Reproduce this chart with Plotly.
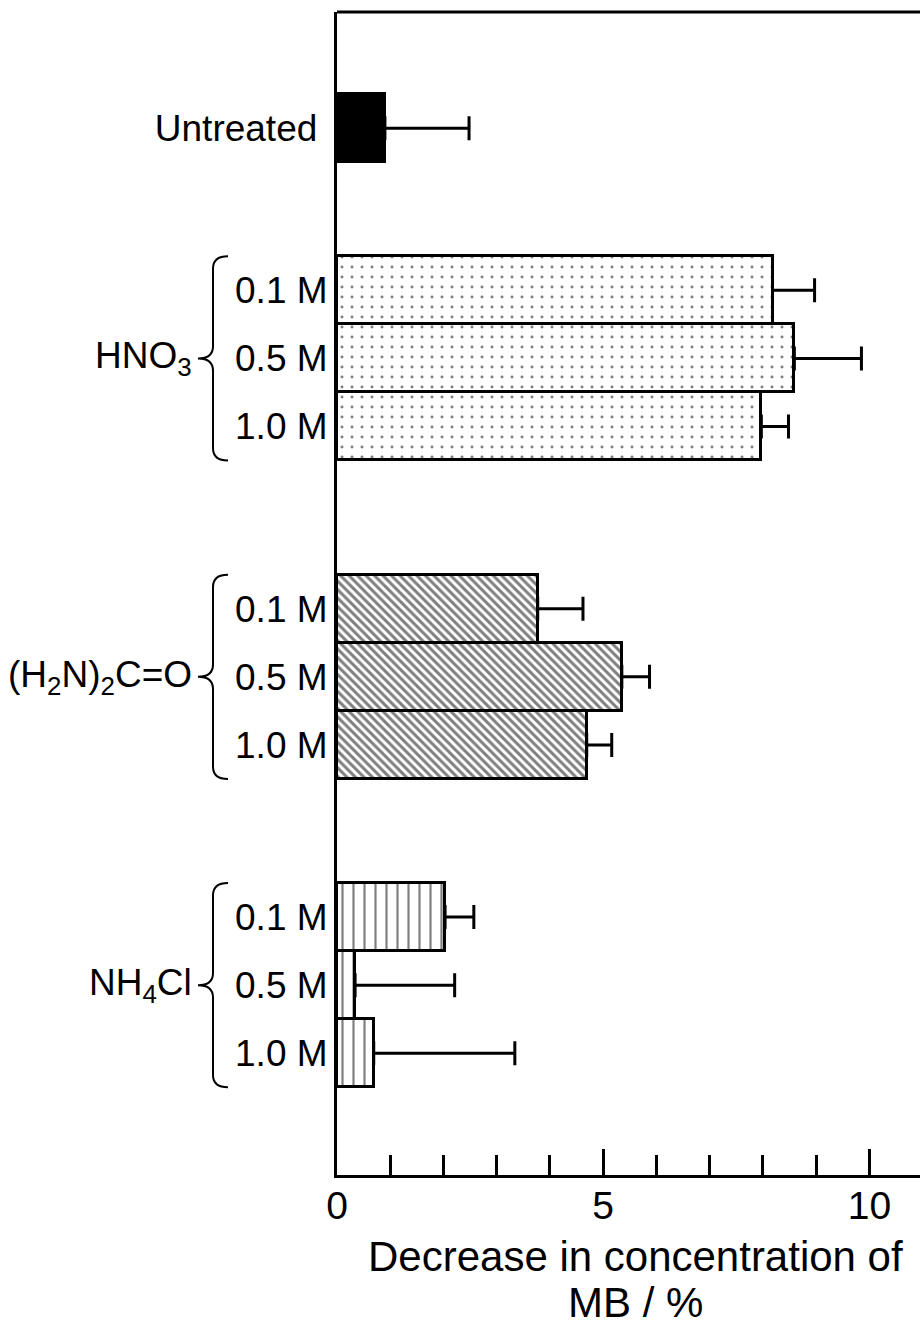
import plotly.graph_objects as go

# ---- data ----
untreated_label = ["Untreated"]
untreated_val = [0.90]
untreated_err = [1.58]

conc_labels = ["0.1 M", "0.5 M", "1.0 M"]

group_names = ["HNO<sub>3</sub>", "(H<sub>2</sub>N)<sub>2</sub>C=O", "NH<sub>4</sub>Cl"]
hno3_val = [8.18, 8.59, 7.97]
hno3_err = [0.79, 1.26, 0.51]
urea_val = [3.77, 5.35, 4.69]
urea_err = [0.85, 0.52, 0.47]
nh4cl_val = [2.03, 0.34, 0.69]
nh4cl_err = [0.54, 1.87, 2.65]

x_title_lines = ["Decrease in concentration of", "MB / %"]

# ---- layout helpers (positions derived from group structure) ----
FONT = "Liberation Sans, Arial, sans-serif"
gaps = [2.38, 2.68, 2.53]
starts = [gaps[0]]
starts.append(starts[0] + 2 + gaps[1])
starts.append(starts[1] + 2 + gaps[2])

W, H = 920, 1328
ML, MR, MT, MB = 337, 0, 12, 153
plot_w = W - ML - MR
plot_h = H - MT - MB

fig = go.Figure()

line_w = 3
fig.add_trace(go.Bar(
    y=[0], x=untreated_val, orientation="h", width=1,
    marker=dict(color="black", line=dict(color="black", width=line_w)),
    error_x=dict(type="data", symmetric=False, array=untreated_err, arrayminus=[0],
                 color="black", thickness=3, width=12),
    showlegend=False,
))

patterns = [
    dict(shape=".", fgcolor="black", bgcolor="white", size=10, solidity=0.07),
    dict(shape="\\", fgcolor="black", bgcolor="white", size=6, solidity=0.5),
    dict(shape="|", fgcolor="black", bgcolor="white", size=11, solidity=0.2),
]
vals = [hno3_val, urea_val, nh4cl_val]
errs = [hno3_err, urea_err, nh4cl_err]

tickvals = [0]
ticktext = [t + "\u00a0" for t in untreated_label]
for gi, s in enumerate(starts):
    ys = [s + k for k in range(len(conc_labels))]
    tickvals += ys
    ticktext += conc_labels
    fig.add_trace(go.Bar(
        y=ys, x=vals[gi], orientation="h", width=1,
        marker=dict(color="white", line=dict(color="black", width=line_w),
                    pattern=patterns[gi]),
        error_x=dict(type="data", symmetric=False, array=errs[gi],
                     arrayminus=[0] * len(ys), color="black", thickness=3, width=12),
        showlegend=False,
    ))

# brackets and group labels
def px2paper(px):
    return (px - ML) / plot_w

def py2paper(py):
    return (H - MB - py) / plot_h

xv = px2paper(213)
xh = px2paper(228)
xt = px2paper(198)
c = 0.18
for gi, s in enumerate(starts):
    yt = s - 0.5
    yb = s + 2 + 0.5
    ym = s + 1
    path = (f"M {xh},{yt} Q {xv},{yt} {xv},{yt + c} "
            f"L {xv},{ym - c} Q {xv},{ym} {xt},{ym} "
            f"Q {xv},{ym} {xv},{ym + c} "
            f"L {xv},{yb - c} Q {xv},{yb} {xh},{yb}")
    fig.add_shape(type="path", path=path, xref="paper", yref="y",
                  line=dict(color="black", width=2))
    fig.add_annotation(x=px2paper(194), y=ym, xref="paper", yref="y",
                       text=group_names[gi], showarrow=False, xanchor="right",
                       yanchor="middle", font=dict(family=FONT, size=37, color="black"))

# top border line
fig.add_shape(type="line", xref="paper", yref="paper", x0=0, x1=1.01, y0=1, y1=1,
              line=dict(color="black", width=3))

# axis title (two lines)
for txt, cy in zip(x_title_lines, [1256, 1302]):
    fig.add_annotation(x=px2paper(635), y=py2paper(cy), xref="paper", yref="paper",
                       text=txt, showarrow=False, xanchor="center", yanchor="middle",
                       borderpad=0,
                       font=dict(family=FONT, size=42, color="black"))

fig.update_layout(
    width=W, height=H,
    margin=dict(l=ML, r=MR, t=MT, b=MB, pad=0),
    plot_bgcolor="white", paper_bgcolor="white",
    bargap=0, barmode="overlay",
    font=dict(family=FONT, color="black"),
    xaxis=dict(range=[0, 10.95], tickvals=[0, 5, 10], ticks="inside", ticklen=26,
               tickwidth=3, tickcolor="black", showline=True, linewidth=3,
               linecolor="black", showgrid=False, zeroline=False,
               ticklabelstandoff=-6,
               tickfont=dict(family=FONT, size=39, color="black"),
               minor=dict(dtick=1, ticks="inside", ticklen=20, tickwidth=3,
                          tickcolor="black", showgrid=False)),
    yaxis=dict(range=[starts[2] + 2 + 1.79, -1.71], tickvals=tickvals, ticktext=ticktext,
               ticks="", showline=True, linewidth=3, linecolor="black",
               showgrid=False, zeroline=False, ticklabelstandoff=-1,
               tickfont=dict(family=FONT, size=37, color="black")),
)

fig.write_html("out.html")
